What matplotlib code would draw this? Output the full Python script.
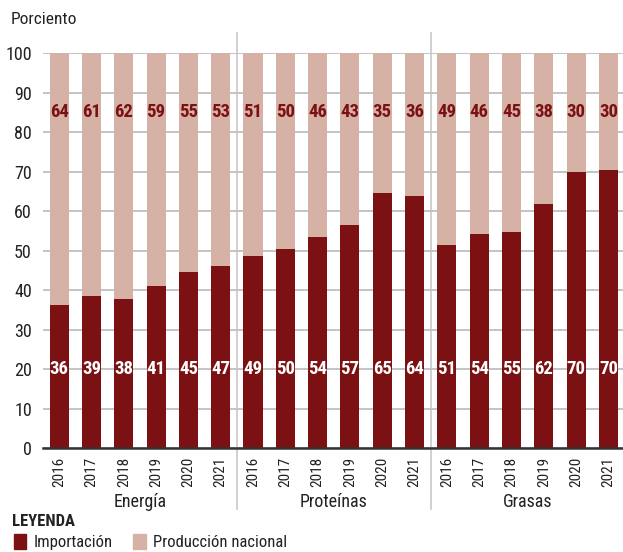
import numpy as np
import matplotlib.pyplot as plt
from matplotlib.patches import Patch

plt.rcParams['font.family'] = ['Roboto Condensed', 'Liberation Sans Narrow', 'DejaVu Sans']
plt.rcParams['font.stretch'] = 'condensed'

groups = ["Energía", "Proteínas", "Grasas"]
years = ["2016", "2017", "2018", "2019", "2020", "2021"]

# Importación share (bar heights)
importacion = [36.2, 38.4, 37.7, 41.0, 44.6, 46.0,
               48.7, 50.3, 53.5, 56.6, 64.5, 63.9,
               51.4, 54.1, 54.8, 61.8, 69.9, 70.3]
# printed labels
lbl_importacion = [36, 39, 38, 41, 45, 47,
                   49, 50, 54, 57, 65, 64,
                   51, 54, 55, 62, 70, 70]
lbl_nacional = [64, 61, 62, 59, 55, 53,
                51, 50, 46, 43, 35, 36,
                49, 46, 45, 38, 30, 30]

dark = "#7B1113"
light = "#D6B1A6"
txt = "#222222"

imp = np.array(importacion)
nac = 100 - imp
x = np.arange(len(imp))

fig = plt.figure(figsize=(6.23, 5.52), dpi=100)
ax = fig.add_axes([0.069, 0.188, 0.931, 0.716])

ax.bar(x, imp, width=0.59, color=dark, zorder=3)
ax.bar(x, nac, bottom=imp, width=0.59, color=light, zorder=3)

for xi, a, b in zip(x, lbl_importacion, lbl_nacional):
    ax.text(xi, 20, str(a), ha="center", va="center", color="white",
            fontsize=13.5, fontweight="bold", zorder=4)
    ax.text(xi, 85, str(b), ha="center", va="center", color=dark,
            fontsize=13.5, fontweight="bold", zorder=4)

ax.set_xlim(-0.5, 17.45)
ax.set_ylim(0, 100)
ax.set_yticks(range(0, 101, 10))
ax.tick_params(axis="y", length=0, labelsize=13, pad=8, labelcolor=txt)
ax.grid(axis="y", color="#C4C4C4", linewidth=1.4, zorder=0)
for s in ["top", "right", "left"]:
    ax.spines[s].set_visible(False)
ax.spines["bottom"].set_color("#333333")
ax.spines["bottom"].set_linewidth(1.8)
ax.spines["bottom"].set_zorder(5)

ax.set_xticks(x)
ax.set_xticklabels(years * 3, rotation=90, fontsize=11, color=txt)
ax.tick_params(axis="x", length=0, pad=6)

# group separators and group names
for sep in [5.5, 11.5]:
    ax.plot([sep, sep], [-15.5, 105], color="#C8C8C8", linewidth=1.2,
            clip_on=False, zorder=1)
for i, g in enumerate(groups):
    ax.text(i * 6 + 2.5, -13.5, g, ha="center", va="center", fontsize=13,
            color=txt)

fig.text(0.017, 0.965, "Porciento", fontsize=12.5, color=txt, va="center")
fig.text(0.019, 0.055, "LEYENDA", fontsize=12, fontweight="bold",
         color=txt, va="center")

handles = [Patch(color=dark, label="Importación"),
           Patch(color=light, label="Producción nacional")]
fig.legend(handles=handles, loc="lower left", bbox_to_anchor=(0.019, 0.0),
           ncol=2, frameon=False, fontsize=12, handlelength=0.75,
           handleheight=1.0, handletextpad=0.45, columnspacing=1.25,
           borderpad=0.1, borderaxespad=0, labelcolor=txt)

fig.savefig("out.png", dpi=100)
